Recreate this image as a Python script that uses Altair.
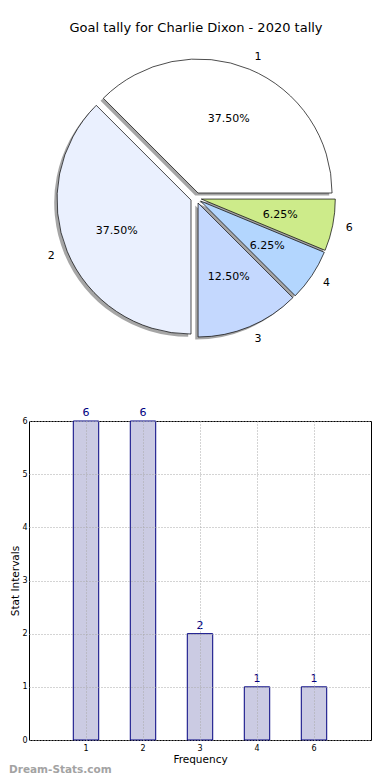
import altair as alt
import pandas as pd

TITLE = "Goal tally for Charlie Dixon - 2020 tally"
categories = ["1", "2", "3", "4", "6"]
counts = [6, 6, 2, 1, 1]
pie_colors = ["#ffffff", "#eaf0fe", "#c4d8fe", "#b3d6fe", "#cdeb8a"]
x_title = "Frequency"
y_title = "Stat Intervals"
y_ticks = [0, 1, 2, 3, 4, 5, 6]
watermark = "Dream-Stats.com"

FONT = "DejaVu Sans"

df = pd.DataFrame({"cat": categories, "count": counts, "order": list(range(len(categories)))})

# layout (pixels)
WM_X = -20      # watermark offset, sets the leftmost extent
L = 8 - WM_X    # page x of the views' left edge
CX = 195 - L    # pie centre within the view
CY = 190
R = 134
D = 5.4         # explode distance
HP = 380        # pie panel height
S = 33          # spacing
WB = 370 - L    # bar panel width
HB = 319        # bar panel height

base = (
    alt.Chart(df)
    .transform_joinaggregate(total="sum(count)")
    .transform_window(cum="sum(count)", sort=[alt.SortField("order")], frame=[None, 0])
    .transform_calculate(
        a0="2*PI*(datum.cum - datum.count)/datum.total",
        a1="2*PI*datum.cum/datum.total",
    )
    .transform_calculate(
        m="(datum.a0 + datum.a1)/2",
        t0="PI/2 - datum.a1",
        t1="PI/2 - datum.a0",
    )
    .transform_calculate(
        px=f"{CX} + {D}*cos(datum.m)",
        py=f"{CY} - {D}*sin(datum.m)",
    )
    .transform_calculate(
        sx="datum.px - 2.8",
        sy="datum.py + 2.6",
        lx=f"datum.px + {1.1 * R}*cos(datum.m)",
        ly=f"datum.py - {1.1 * R}*sin(datum.m)",
        qx=f"datum.px + {0.6 * R}*cos(datum.m)",
        qy=f"datum.py - {0.6 * R}*sin(datum.m)",
        pct="format(100*datum.count/datum.total, '.2f') + '%'",
    )
)

theta = alt.Theta("t0:Q", scale=None)
theta2 = alt.Theta2("t1:Q")

shadow = base.mark_arc(radius=R, fill="#4d4d4d", fillOpacity=0.5).encode(
    theta=theta, theta2=theta2,
    x=alt.X("sx:Q", scale=None, axis=None),
    y=alt.Y("sy:Q", scale=None, axis=None),
)

wedges = base.mark_arc(radius=R, stroke="black", strokeWidth=0.7).encode(
    theta=theta, theta2=theta2,
    x=alt.X("px:Q", scale=None, axis=None),
    y=alt.Y("py:Q", scale=None, axis=None),
    color=alt.Color("cat:N", scale=alt.Scale(domain=categories, range=pie_colors), legend=None),
)

pct = base.mark_text(font=FONT, fontSize=11, color="black").encode(
    x=alt.X("qx:Q", scale=None, axis=None),
    y=alt.Y("qy:Q", scale=None, axis=None),
    text="pct:N",
)

lab_right = base.transform_filter("cos(datum.m) >= 0").mark_text(
    font=FONT, fontSize=11, color="black", align="left", baseline="middle"
).encode(
    x=alt.X("lx:Q", scale=None, axis=None),
    y=alt.Y("ly:Q", scale=None, axis=None),
    text="cat:N",
)
lab_left = base.transform_filter("cos(datum.m) < 0").mark_text(
    font=FONT, fontSize=11, color="black", align="right", baseline="middle"
).encode(
    x=alt.X("lx:Q", scale=None, axis=None),
    y=alt.Y("ly:Q", scale=None, axis=None),
    text="cat:N",
)

title = alt.Chart(pd.DataFrame({"t": [TITLE]})).mark_text(
    font=FONT, fontSize=13, color="black", align="center", baseline="alphabetic"
).encode(x=alt.value(CX), y=alt.value(24), text="t:N")

pie = alt.layer(shadow, wedges, pct, lab_right, lab_left, title).properties(
    width=WB, height=HP, view=alt.ViewBackground(stroke="transparent", strokeWidth=0)
)

xenc = alt.X(
    "cat:N", sort=categories,
    scale=alt.Scale(paddingInner=0.554, paddingOuter=0.777),
    axis=alt.Axis(
        title=x_title, labelAngle=0, bandPosition=0.5, grid=True, gridDash=[1, 2],
        gridColor="#a8a8a8", ticks=False, domain=False, labelFontSize=8,
        labelPadding=4, titleFontSize=10.5, titlePadding=2, titleFontWeight="normal",
        labelColor="black", titleColor="black", labelFont=FONT, titleFont=FONT, zindex=1,
    ),
)
yenc = alt.Y(
    "count:Q", scale=alt.Scale(domain=[0, 6]),
    axis=alt.Axis(
        title=y_title, values=y_ticks, grid=True, gridDash=[1, 2], gridColor="#a8a8a8",
        ticks=False, domain=False, labelFontSize=8, labelPadding=2, titleFontSize=10.5,
        titlePadding=1, titleFontWeight="normal", labelColor="black", titleColor="black",
        labelFont=FONT, titleFont=FONT, zindex=1,
    ),
)

bars = alt.Chart(df).mark_bar(fill="#cbcbe3", stroke="#000080", strokeWidth=1).encode(
    x=xenc, y=yenc
)
vals = alt.Chart(df).mark_text(
    font=FONT, fontSize=11, color="#000080", baseline="bottom", dy=-3
).encode(x=alt.X("cat:N", sort=categories), y="count:Q", text="count:Q")

wm = alt.Chart(pd.DataFrame({"w": [watermark]})).mark_text(
    font=FONT, fontSize=10.5, fontWeight="bold", color="#a3a3a3", align="left", baseline="middle"
).encode(x=alt.value(WM_X), y=alt.value(HB + 30), text="w:N")

barchart = alt.layer(bars, vals, wm).properties(
    width=WB, height=HB, view=alt.ViewBackground(stroke="black", strokeWidth=1)
)

chart = alt.vconcat(pie, barchart, spacing=S, bounds="flush").properties(
    padding=0
).configure(font=FONT)

chart.save("out.html", embed_options={"renderer": "svg", "actions": False})
